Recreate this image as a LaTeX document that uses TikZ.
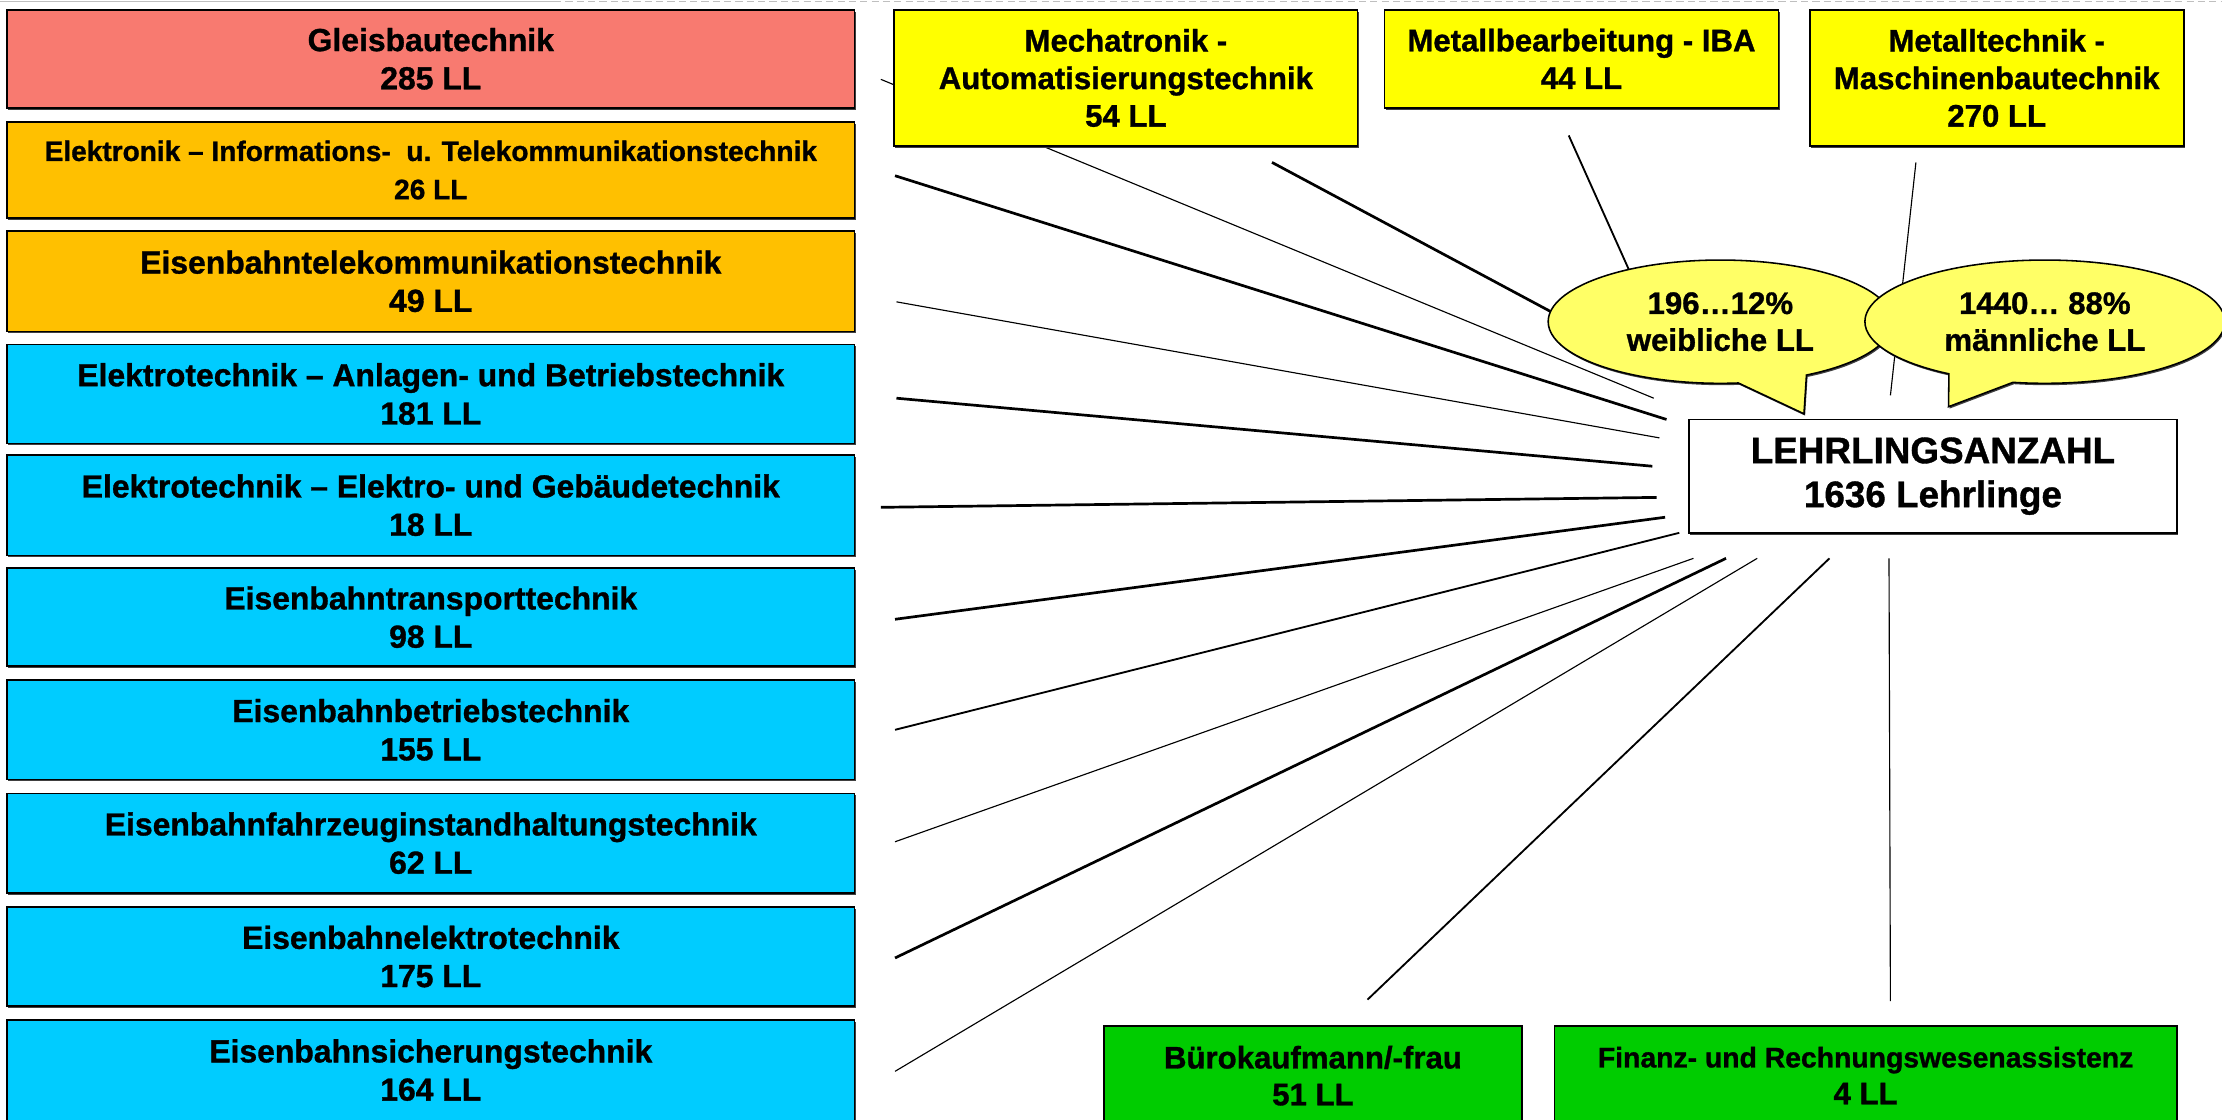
\documentclass[tikz,border=0pt]{standalone}
\usepackage{fontspec}
\setmainfont{Liberation Sans}[BoldFeatures={FakeBold=1.0}]
\usetikzlibrary{shapes.callouts,shadows,calc}
\definecolor{salmon}{RGB}{248,122,112}
\definecolor{orng}{RGB}{255,192,0}
\definecolor{cyn}{RGB}{0,204,255}
\definecolor{yel}{RGB}{255,255,0}
\definecolor{grn}{RGB}{0,204,0}
\definecolor{lyel}{RGB}{255,255,102}
\pgfdeclarelayer{bg}
\pgfsetlayers{bg,main}
\begin{document}
\begin{tikzpicture}[x=1pt,y=-1pt,
  shad/.style={general shadow={fill=black!75, shadow xshift=0.8pt, shadow yshift=-1.3pt}},
  box/.style={shad, draw=black, line width=1.2pt, inner sep=0pt, align=center,
    font=\bfseries\fontsize{22.5}{27}\selectfont},
  lbox/.style={box, minimum width=598pt, minimum height=70pt},
  tbox/.style={box, font=\bfseries\fontsize{22}{26.5}\selectfont},
  gbox/.style={box, font=\bfseries\fontsize{22}{26}\selectfont},
  lthin/.style={line width=0.8pt},
  lmed/.style={line width=1.3pt},
  lthick/.style={line width=1.9pt},
  bubble/.style={ellipse callout, shad, draw=black, line width=1.1pt, fill=lyel, inner sep=0pt,
    align=center, font=\bfseries\fontsize{22}{26}\selectfont}]
\useasboundingbox (0,0) rectangle (1568,790);

% left column
\node[lbox, fill=salmon, minimum height=69pt] (b1) at (304,41.5) {Gleisbautechnik\\285 LL};
\node[lbox, fill=orng, minimum height=68pt, font=\bfseries\fontsize{19.8}{27}\selectfont] (b2) at (304,120) {Elektronik -- Informations-\ \ u. Telekommunikationstechnik\\26 LL};
\node[lbox, fill=orng, minimum height=71pt] (b3) at (304,198.5) {Eisenbahntelekommunikationstechnik\\49 LL};
\node[lbox, fill=cyn] (b4) at (304,278) {Elektrotechnik -- Anlagen- und Betriebstechnik\\181 LL};
\node[lbox, fill=cyn, minimum height=71pt] (b5) at (304,356.5) {Elektrotechnik -- Elektro- und Gebäudetechnik\\18 LL};
\node[lbox, fill=cyn, minimum height=69pt] (b6) at (304,435.5) {Eisenbahntransporttechnik\\98 LL};
\node[lbox, fill=cyn] (b7) at (304,515) {Eisenbahnbetriebstechnik\\155 LL};
\node[lbox, fill=cyn] (b8) at (304,595) {Eisenbahnfahrzeuginstandhaltungstechnik\\62 LL};
\node[lbox, fill=cyn] (b9) at (304,675) {Eisenbahnelektrotechnik\\175 LL};
\node[lbox, fill=cyn, minimum height=80pt, text depth=10pt] (b10) at (304,760) {Eisenbahnsicherungstechnik\\164 LL};

% top boxes
\node[tbox, fill=yel, minimum width=327pt, minimum height=96pt] (mech) at (794.5,55) {Mechatronik -\\Automatisierungstechnik\\54 LL};
\node[tbox, fill=yel, minimum width=278pt, minimum height=69pt] (mb) at (1116,41.5) {Metallbearbeitung - IBA\\44 LL};
\node[tbox, fill=yel, minimum width=264pt, minimum height=96pt] (mt) at (1409,55) {Metalltechnik -\\Maschinenbautechnik\\270 LL};

% bottom boxes
\node[gbox, fill=grn, minimum width=295pt, minimum height=80pt, text depth=10pt] (bk) at (926.5,764) {Bürokaufmann/-frau\\51 LL};
\node[gbox, fill=grn, minimum width=439pt, minimum height=80pt, text depth=10pt] (fi) at (1316.5,764) {{\fontsize{20}{26}\selectfont Finanz- und Rechnungswesenassistenz}\\4 LL};

% centre
\node[box, fill=white, minimum width=344pt, minimum height=80pt,
  font=\bfseries\fontsize{26}{31}\selectfont] (c) at (1364,336) {LEHRLINGSANZAHL\\1636 Lehrlinge};

% line end points near the centre
\coordinate (e1) at (1167,281);
\coordinate (e2) at (1176,296);
\coordinate (e3) at (1171,309);
\coordinate (e4) at (1166,329);
\coordinate (e5) at (1169,351);
\coordinate (e6) at (1175,365);
\coordinate (e7) at (1185,376);
\coordinate (e8) at (1195,394);
\coordinate (e9) at (1218,394);
\coordinate (e10) at (1240,394);
\coordinate (ebk) at (1291,394);
\coordinate (efi) at (1333,394);
\coordinate (emech) at (1102,224);
\coordinate (emb) at (1152,196);
\coordinate (emt) at (1334,279);

\begin{pgfonlayer}{bg}
\fill[white] (0,0) rectangle (1568,790);
\draw[black!25, line width=0.8pt] (0,1) -- (391,1);
\draw[black!25, line width=0.8pt, dash pattern=on 5pt off 3pt] (391,1) -- (1568,1);
\draw[lthin]  ($(b1.east)+(18,14.5)$) -- (e1);
\draw[lthick] ($(b2.east)+(28,4)$) -- (e2);
\draw[lthin]  ($(b3.east)+(29,14.5)$) -- (e3);
\draw[lthick] ($(b4.east)+(29,3)$) -- (e4);
\draw[lthick] ($(b5.east)+(18,1.5)$) -- (e5);
\draw[lthick] ($(b6.east)+(28,1.5)$) -- (e6);
\draw[lmed]   ($(b7.east)+(28,0)$) -- (e7);
\draw[lthin]  ($(b8.east)+(28,-1)$) -- (e8);
\draw[lthick] ($(b9.east)+(28,1)$) -- (e9);
\draw[lthin]  ($(b10.east)+(28,-4)$) -- (e10);
\draw[lmed]   ($(bk.north)+(38.5,-18)$) -- (ebk);
\draw[lthin]  ($(fi.north)+(17.5,-17)$) -- (efi);
\draw[lthick] ($(mech.south east)+(-61,11)$) -- (emech);
\draw[lmed]   ($(mb.south)+(-9,19)$) -- (emb);
\draw[lthin]  ($(mt.south)+(-57,11)$) -- (emt);
\end{pgfonlayer}

% callouts
\node[bubble, minimum width=243pt, minimum height=87pt,
  callout absolute pointer={(1273,292)}, callout pointer arc=24] (w) at (1214,227) {196…12\%\\weibliche LL};
\node[bubble, minimum width=254pt, minimum height=87pt,
  callout absolute pointer={(1375,287)}, callout pointer arc=22] (m) at (1443,227) {1440… 88\%\\männliche LL};
\end{tikzpicture}
\end{document}
